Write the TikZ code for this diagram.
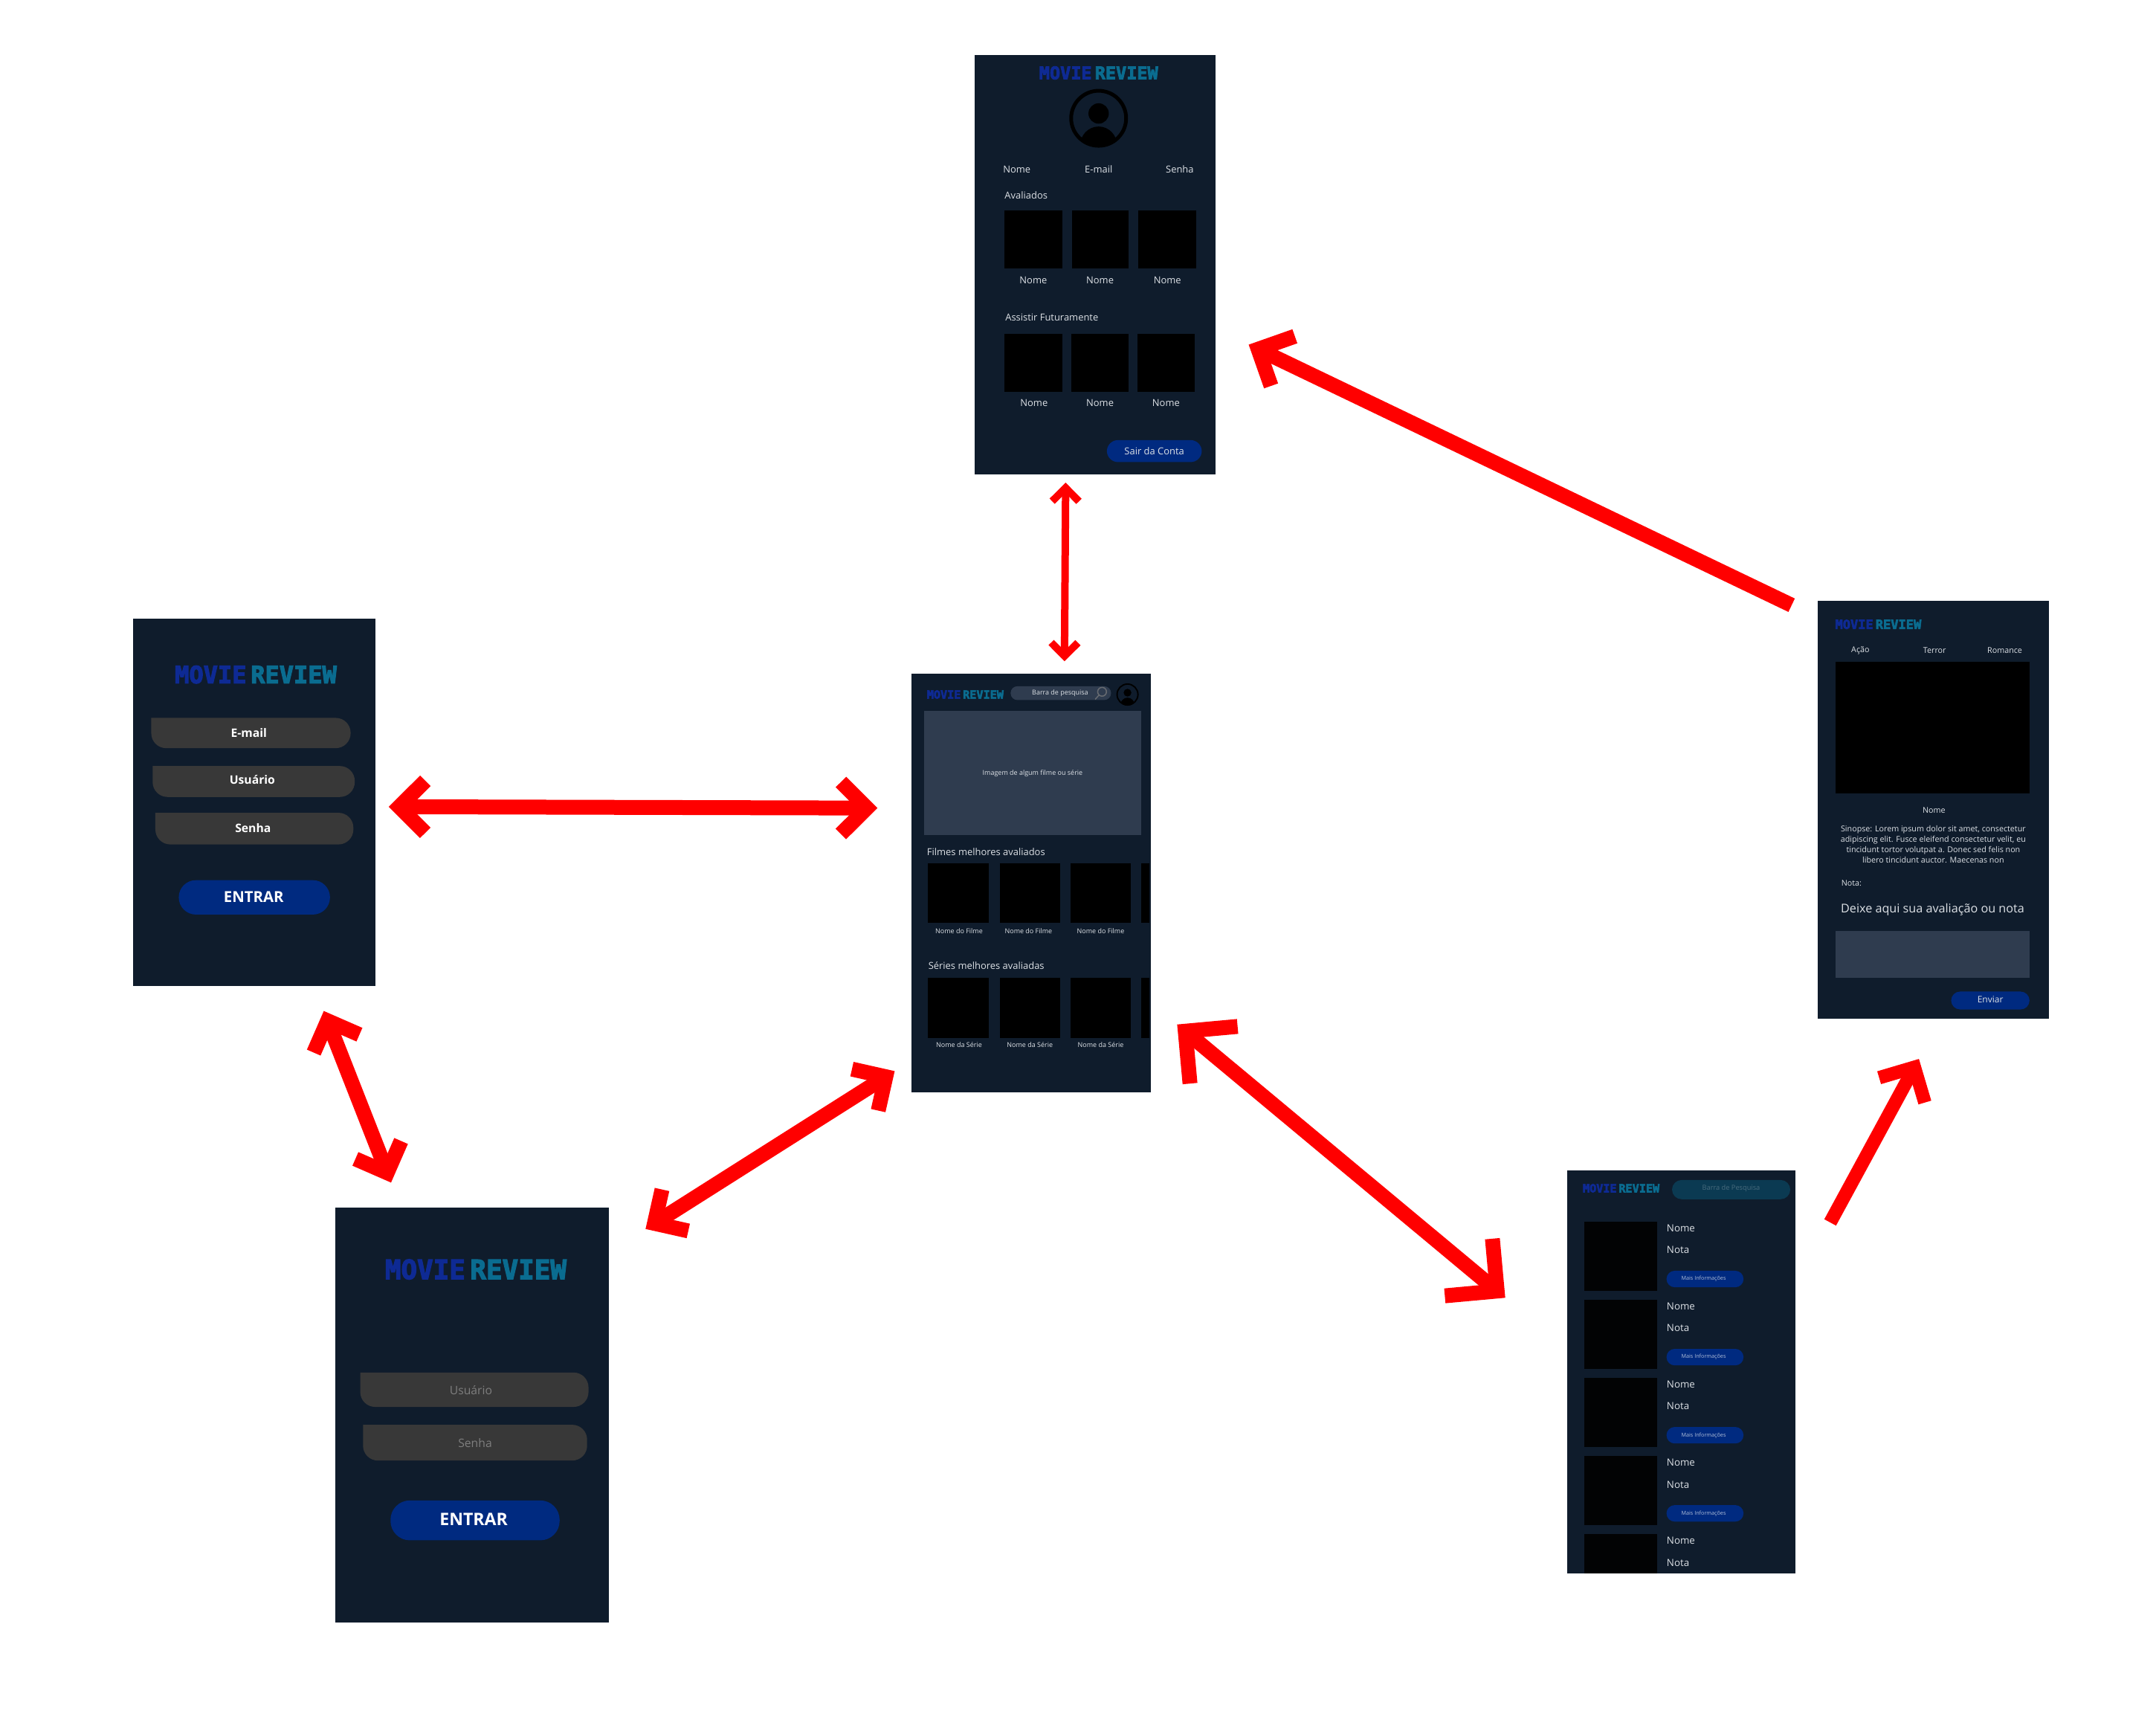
\documentclass[tikz,border=0pt]{standalone}
\usepackage{fontspec}
\setmainfont{Open Sans}
\newfontfamily\logofont{DejaVu Sans Mono}[BoldFeatures={FakeBold=3.5}]
\usetikzlibrary{arrows.meta, fit}
\definecolor{screenbg}{HTML}{0F1C2C}
\definecolor{panelgray}{HTML}{2F3C4F}
\definecolor{fieldgray}{HTML}{383838}
\definecolor{btnblue}{HTML}{002A80}
\definecolor{searchteal}{HTML}{0B3A52}
\definecolor{txtlight}{HTML}{DDE1E6}
\definecolor{logoblue}{HTML}{0E2A94}
\definecolor{logoteal}{HTML}{0A6C90}
\tikzset{
  screen/.style={fill=screenbg, inner sep=0pt, outer sep=0pt},
  thumb/.style={fill=black},
  field/.style={fill=fieldgray, rounded corners=20pt},
  btn/.style={fill=btnblue, rounded corners=#1},
  txt/.style={scale=1.8495, inner sep=0pt, text=txtlight, font=\fontsize{#1}{#1}\selectfont},
  logotxt/.style={scale=1.8495, inner sep=0pt, font=\fontsize{#1}{#1}\selectfont\logofont\bfseries},
  linkboth/.style 2 args={draw=red, line width=#1, {Straight Barb[length=#2, width'=0pt 2]}-{Straight Barb[length=#2, width'=0pt 2]}},
  linkone/.style 2 args={draw=red, line width=#1, -{Straight Barb[length=#2, width'=0pt 2]}}
}
\newcommand{\movielogo}{\textcolor{logoblue}{MOVIE}\hspace{.18em}\textcolor{logoteal}{REVIEW}}
\newcommand{\avatar}[3]{%
  \begin{scope}[shift={(#1,#2)}, scale=#3]
    \begin{scope}
      \clip (0,0) circle (21);
      \fill[black] (0,20) ellipse (13.5 and 14);
    \end{scope}
    \fill[black] (0,-3.5) circle (7.4);
    \draw[black, line width=#3*5pt] (0,0) circle (20);
  \end{scope}}

\begin{document}
\begin{tikzpicture}[x=1.8495pt, y=-1.8495pt]
\useasboundingbox (0,0) rectangle (1568,1243.6);

% screens
\node[screen, fit={(709,40) (884,345)}] (profile) {};
\node[screen, fit={(663,490) (837,794)}] (home) {};
\node[screen, fit={(97,450) (273,717)}] (signup) {};
\node[screen, fit={(244,878) (443,1180)}] (login) {};
\node[screen, fit={(1322,437) (1490,741)}] (detail) {};
\node[screen, fit={(1140,851) (1306,1144)}] (list) {};

% profile
\node[logotxt=12.7] (pLogo) at (799,53) {\movielogo};
\avatar{799}{86}{1}
\node[txt=7] (pNome) at (739.5,123) {Nome};
\node[txt=7] (pMail) at (799,123) {E-mail};
\node[txt=7] (pSenha) at (858,123) {Senha};
\node[txt=7, anchor=west] (pAval) at (730.5,142) {Avaliados};
\node[txt=7, anchor=west] (pFut) at (731,231) {Assistir Futuramente};
\foreach \i/\xa/\xb in {1/730.5/772.5, 2/779.5/821, 3/828/870}
  \fill[thumb] (\xa,153) rectangle (\xb,195);
\foreach \i/\xa/\xb in {1/730.5/772.5, 2/779/821, 3/827/869}
  \fill[thumb] (\xa,243) rectangle (\xb,285);
\foreach \i/\xa in {1/751.5, 2/800, 3/849}
  \node[txt=7] (pAvalN\i) at (\xa,204) {Nome};
\foreach \i/\xa in {1/752, 2/800, 3/848}
  \node[txt=7] (pFutN\i) at (\xa,293) {Nome};
\fill[btn=15pt] (805,320) rectangle (874,336);
\node[txt=7] (pSair) at (839.5,328) {Sair da Conta};

% home
\node[logotxt=8.2] (hLogo) at (702,505) {\movielogo};
\fill[panelgray, rounded corners=9pt] (735,499) rectangle (808,509);
\node[txt=4.85] (hBusca) at (771,504) {Barra de pesquisa};
\draw[gray!70!panelgray, line width=1.5pt] (801.5,503) circle (3.2) (799.2,505.5) -- (796.5,508.5);
\avatar{820}{505}{0.38}
\fill[panelgray] (672,517) rectangle (830,607);
\node[txt=4.85] (hImg) at (751,562.5) {Imagem de algum filme ou série};
\node[txt=7, anchor=west] (hFilmes) at (674,619.5) {Filmes melhores avaliados};
\node[txt=7, anchor=west] (hSeries) at (675,702) {Séries melhores avaliadas};
\foreach \xa/\xb in {675/719, 727/771, 778.5/822.5, 830/836} {
  \fill[thumb] (\xa,628) rectangle (\xb,671);
  \fill[thumb] (\xa,711) rectangle (\xb,755);
}
\foreach \i/\xa in {1/697.5, 2/748, 3/800.5}
  \node[txt=4.85] (hFilme\i) at (\xa,677) {Nome do Filme};
\foreach \i/\xa in {1/697.5, 2/749, 3/800.5}
  \node[txt=4.85] (hSerie\i) at (\xa,759.5) {Nome da Série};

% signup
\node[logotxt=17.3] (sLogo) at (186,490.5) {\movielogo};
\fill[field] (110,522) -- (255,522) -- (255,544) -- (110,544) -- (110,522);
\fill[field] (111,557) -- (258,557) -- (258,579.5) -- (111,579.5) -- (111,557);
\fill[field] (113,591) -- (257,591) -- (257,614) -- (113,614) -- (113,591);
\node[txt=8.5, text=white, font=\fontsize{8.5}{8.5}\selectfont\bfseries] (sMail) at (181,533) {E-mail};
\node[txt=8.5, text=white, font=\fontsize{8.5}{8.5}\selectfont\bfseries] (sUser) at (183.5,567) {Usuário};
\node[txt=8.5, text=white, font=\fontsize{8.5}{8.5}\selectfont\bfseries] (sSenha) at (184,602) {Senha};
\fill[btn=23pt] (130,640) rectangle (240,665);
\node[txt=11, text=white, font=\fontsize{11}{11}\selectfont\bfseries] (sEntrar) at (184.5,652) {ENTRAR};

% login
\node[logotxt=19.4] (lLogo) at (346,923) {\movielogo};
\fill[field] (262,998) -- (428,998) -- (428,1023) -- (262,1023) -- (262,998);
\fill[field] (264,1036) -- (427,1036) -- (427,1062) -- (264,1062) -- (264,1036);
\node[txt=8.5, text=white!35!fieldgray] (lUser) at (342.5,1011) {Usuário};
\node[txt=8.5, text=white!35!fieldgray] (lSenha) at (345.5,1049) {Senha};
\fill[btn=26pt] (284,1091) rectangle (407,1120);
\node[txt=12.5, text=white, font=\fontsize{12.5}{12.5}\selectfont\bfseries] (lEntrar) at (344.5,1105) {ENTRAR};

% detail
\node[logotxt=9.2] (dLogo) at (1366,454) {\movielogo};
\node[txt=5.8] (dAcao) at (1353,473) {Ação};
\node[txt=5.8] (dTerror) at (1407,473) {Terror};
\node[txt=5.8] (dRomance) at (1458,473) {Romance};
\fill[thumb] (1335,481) rectangle (1476,577);
\node[txt=5.8] (dNome) at (1406.5,589) {Nome};
\node[txt=5.8, align=center, font=\fontsize{5.8}{7.6}\selectfont] (dSinopse) at (1406,614) {Sinopse: Lorem ipsum dolor sit amet, consectetur\\adipiscing elit. Fusce eleifend consectetur velit, eu\\tincidunt tortor volutpat a. Donec sed felis non\\libero tincidunt auctor. Maecenas non};
\node[txt=5.8, anchor=west] (dNota) at (1339,642) {Nota:};
\node[txt=8.75] (dDeixe) at (1405.5,661.5) {Deixe aqui sua avaliação ou nota};
\fill[panelgray] (1335,677) rectangle (1476,711);
\fill[btn=12pt] (1419,721) rectangle (1476,734);
\node[txt=6.5] (dEnviar) at (1447.5,727) {Enviar};

% list
\node[logotxt=8.2] (tLogo) at (1179,864) {\movielogo};
\fill[searchteal, rounded corners=13pt] (1216,858) rectangle (1302,872);
\node[txt=5, text=white!25!searchteal] (tBusca) at (1259,864) {Barra de Pesquisa};
\foreach \i/\yy in {1/0, 2/56.8, 3/113.6, 4/170.4} {
  \fill[black!90!screenbg] (1152,888.5+\yy) rectangle (1205,938.5+\yy);
  \node[txt=7.2, anchor=west] (tNome\i) at (1212,893+\yy) {Nome};
  \node[txt=7.2, anchor=west] (tNota\i) at (1212,909+\yy) {Nota};
  \fill[btn=11pt] (1212,924+\yy) rectangle (1268,936+\yy);
  \node[txt=3.9, text=white!70!btnblue] (tInfo\i) at (1239,930+\yy) {Mais Informações};
}
\fill[black!90!screenbg] (1152,1115.5) rectangle (1205,1144);
\node[txt=7.2, anchor=west] (tNome5) at (1212,1120.2) {Nome};
\node[txt=7.2, anchor=west] (tNota5) at (1212,1136.2) {Nota};

% links
\draw[linkboth={20pt}{35pt}, shorten <=18pt, shorten >=46pt] (signup.-2.3) -- (home.148.2);
\draw[linkboth={10pt}{18pt}, shorten <=11pt, shorten >=17pt] (profile.-98.8) -- (home.81.4);
\draw[linkboth={20pt}{33pt}, shorten <=36pt, shorten >=36pt] (signup.-72.5) -- (login.109.2);
\draw[linkboth={20pt}{33pt}, shorten <=58pt, shorten >=27pt] (login.50.1) -- (home.-124.2);
\draw[linkboth={20pt}{50pt}, shorten <=46pt, shorten >=109pt] (home.-45.4) -- (list.169.8);
\draw[linkone={18pt}{35pt}, shorten <=97pt, shorten >=61pt] (list.37.4) -- (detail.-88.2);
\draw[linkone={20pt}{37pt}, shorten <=39pt, shorten >=49.5pt] (detail.121) -- (profile.-28.2);
\end{tikzpicture}
\end{document}
